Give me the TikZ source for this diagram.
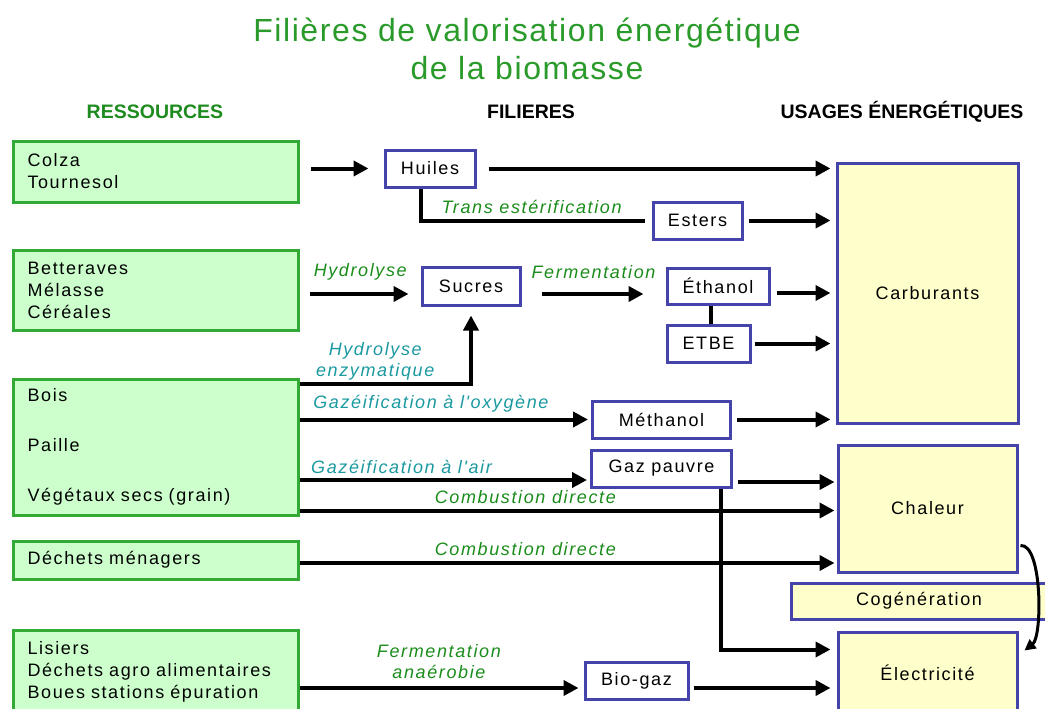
\documentclass[tikz,border=0pt]{standalone}
\usepackage{fontspec}
\setmainfont{Liberation Sans}
\usepackage{xcolor}
\usepackage{tikz}
\usetikzlibrary{arrows.meta, positioning, calc}
\newfontfamily\boxfont[LetterSpace=9]{Liberation Sans}
\newfontfamily\titlefont[LetterSpace=5]{Liberation Sans}
\definecolor{resgreen}{HTML}{33AA33}
\definecolor{resfill}{HTML}{CCFFCC}
\definecolor{filblue}{HTML}{4444AA}
\definecolor{usefill}{HTML}{FFFFCC}
\definecolor{labgreen}{HTML}{1A8C1A}
\definecolor{labteal}{HTML}{1A99A0}
\definecolor{titlegreen}{HTML}{2A9A2A}
\definecolor{hdrgreen}{HTML}{1E8B1E}
\newcommand{\boxtxt}{\boxfont\fontsize{18}{22}\selectfont}
\tikzset{
    resbox/.style={
        rectangle, draw=resgreen, fill=resfill, line width=3pt,
        minimum width=285pt, text width=257pt, inner xsep=14pt, inner ysep=0pt,
        align=left, font=\boxtxt, anchor=west
    },
    filbox/.style={
        rectangle, draw=filblue, fill=white, line width=3pt,
        inner sep=0pt, font=\boxtxt
    },
    usagebox/.style={
        rectangle, draw=filblue, fill=usefill, line width=3pt,
        inner sep=0pt, font=\boxtxt
    },
    flow/.style={
        -{Triangle[length=15pt, width=15pt]}, line width=4pt
    },
    link/.style={
        line width=4pt
    },
    lbl/.style={
        font=\boxfont\itshape\fontsize{18}{21}\selectfont, text=#1,
        align=center, inner sep=0pt
    },
    lbl/.default=labgreen,
    hdr/.style={
        font=\fontsize{19.5}{22}\selectfont\bfseries, text=#1
    },
    hdr/.default=black,
}

\begin{document}
\begin{tikzpicture}[x=1pt, y=-1pt]
    \useasboundingbox (0,0) rectangle (1045,709);

    % Title and columns
    \node[font=\titlefont\fontsize{32}{38}\selectfont, text=titlegreen, align=center] (title) at (527,49) {Filières de valorisation énergétique\\de la biomasse};
    \node[hdr=hdrgreen] (hres) at (155,112) {RESSOURCES};
    \node[hdr] (hfil) at (531,112) {FILIERES};
    \node[hdr] (huse) at (902,112) {USAGES ÉNERGÉTIQUES};

    % Resources
    \node[resbox, minimum height=61pt] (colza) at (12,171.5) {Colza\\Tournesol};
    \node[resbox, minimum height=80pt] (bett) at (12,290) {Betteraves\\Mélasse\\Céréales};
    \node[resbox, minimum height=136pt] (bois) at (12,447) {Bois\\[28pt]Paille\\[28pt]Végétaux secs (grain)};
    \node[resbox, minimum height=38pt] (dechm) at (12,560) {Déchets ménagers};
    \node[resbox, minimum height=83pt] (lisier) at (12,671.5) {Lisiers\\Déchets agro alimentaires\\Boues stations épuration};

    % Filieres
    \node[filbox, minimum width=90pt, minimum height=37pt] (huiles) at (430,168.5) {Huiles};
    \node[filbox, minimum width=89pt, minimum height=37pt] (esters) at (697.5,220.5) {Esters};
    \node[filbox, minimum width=98pt, minimum height=38pt] (sucres) at (471,286) {Sucres};
    \node[filbox, minimum width=102pt, minimum height=36pt] (ethanol) at (718,286) {Éthanol};
    \node[filbox, minimum width=83pt, minimum height=37pt] (etbe) at (708.5,343.5) {ETBE};
    \node[filbox, minimum width=138pt, minimum height=37pt] (methanol) at (661.5,419.5) {Méthanol};
    \node[filbox, minimum width=140pt, minimum height=37pt, below=9pt of methanol] (gazp) {Gaz pauvre};
    \node[filbox, minimum width=103pt, minimum height=37pt] (biogaz) at (636.5,680.5) {Bio-gaz};

    % Usages
    \node[usagebox, minimum width=181pt, minimum height=260pt] (carb) at (927.5,293) {Carburants};
    \node[usagebox, minimum width=179pt, minimum height=127pt, below=19pt of carb] (chaleur) {Chaleur};
    \node[usagebox, minimum width=256pt, minimum height=36pt] (cogen) at (919,601) {Cogénération};
    \node[usagebox, minimum width=179pt, minimum height=82pt, below=57pt of chaleur] (elec) {Électricité};

    % Oil crops
    \draw[flow, shorten <=11pt, shorten >=15pt] (colza.east |- huiles.west) -- (huiles.west);
    \draw[flow, shorten <=12pt, shorten >=5pt] (huiles.east) -- (huiles.east -| carb.west);
    \draw[link, shorten >=7pt] ($(huiles.south)+(-9,0)$) |- (esters.west) node[lbl, pos=0.74, yshift=14pt] {Trans estérification};
    \draw[flow, shorten <=5pt, shorten >=5pt] (esters.east) -- (esters.east -| carb.west);

    % Sugar crops
    \draw[flow, shorten <=10pt, shorten >=12pt] ($(bett.east |- sucres.west)+(0,8)$) -- ($(sucres.west)+(0,8)$) node[lbl, midway, yshift=22pt] {Hydrolyse};
    \draw[flow, shorten <=20pt, shorten >=22pt] ($(sucres.east)+(0,8)$) -- ($(sucres.east -| ethanol.west)+(0,8)$) node[lbl, midway, yshift=22pt] {Fermentation};
    \draw[flow, shorten <=6pt, shorten >=5pt] ($(ethanol.east)+(0,7)$) -- ($(ethanol.east -| carb.west)+(0,7)$);
    \draw[link] ($(etbe.north)+(2.5,0)$) -- ($(etbe.north |- ethanol.south)+(2.5,0)$);
    \draw[flow, shorten <=3pt, shorten >=5pt] (etbe.east) -- (etbe.east -| carb.west);

    % Wood and straw
    \draw[flow, shorten >=9pt] ($(bois.north east)+(0,6)$) -| (sucres.south) node[lbl=labteal, pos=0.22, yshift=22pt] {Hydrolyse\\enzymatique};
    \draw[flow, shorten >=3pt] (bois.east |- methanol.west) -- (methanol.west) node[lbl=labteal, pos=0.45, yshift=16pt] {Gazéification à l'oxygène};
    \draw[flow, shorten <=5pt, shorten >=5pt] (methanol.east) -- (methanol.east -| carb.west);
    \draw[flow, shorten >=3pt] ($(bois.east |- gazp.west)+(0,11.5)$) -- ($(gazp.west)+(0,11.5)$) node[lbl=labteal, pos=0.35, yshift=13pt] {Gazéification à l'air};
    \draw[flow, shorten <=5pt, shorten >=2pt] ($(gazp.east)+(0,13.5)$) -- ($(gazp.east -| chaleur.west)+(0,13.5)$);
    \draw[flow, shorten >=2pt] ($(bois.east |- chaleur.west)+(0,2)$) -- ($(chaleur.west)+(0,2)$) node[lbl, pos=0.42, yshift=13pt] {Combustion directe};
    \draw[flow, shorten >=6pt] ($(gazp.south)+(59,0)$) |- ($(elec.north west)+(0,19)$);

    % Household waste
    \draw[flow, shorten >=2pt] ($(dechm.east)+(0,3)$) -- ($(dechm.east -| chaleur.west)+(0,3)$) node[lbl, pos=0.42, yshift=14pt] {Combustion directe};

    % Wet waste
    \draw[flow, shorten >=5pt] ($(lisier.east |- biogaz.west)+(0,7.5)$) -- ($(biogaz.west)+(0,7.5)$) node[lbl, pos=0.49, yshift=26pt] {Fermentation\\anaérobie};
    \draw[flow, shorten <=4pt, shorten >=6pt] ($(biogaz.east)+(0,7.5)$) -- ($(biogaz.east -| elec.west)+(0,7.5)$);

    % Cogeneration
    \draw[-{Triangle[length=11pt, width=11pt]}, line width=3pt] ($(chaleur.east)+(2,37)$) .. controls ($(chaleur.east)+(24,35)$) and ($(elec.north east)+(24,6)$) .. ($(elec.north east)+(6,20)$);

\end{tikzpicture}
\end{document}
